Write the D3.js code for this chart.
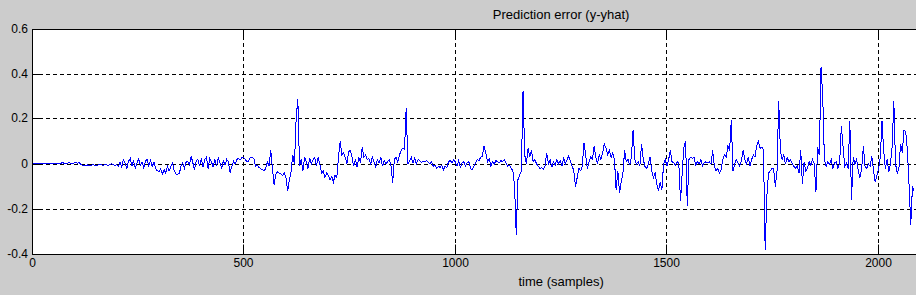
<!DOCTYPE html>
<html><head><meta charset="utf-8">
<script src="https://cdn.jsdelivr.net/npm/d3@7/dist/d3.min.js"></script>
<style>
html,body{margin:0;padding:0;background:#cccccc;overflow:hidden;}
svg{display:block;}
</style>
</head><body>
<svg id="chart" width="916" height="295"></svg>
<script>
// ---------------- data ----------------
const chartTitle = "Prediction error (y-yhat)";
const xAxisLabel = "time (samples)";
const xTickValues = [0, 500, 1000, 1500, 2000];
const xTickLabels = ["0", "500", "1000", "1500", "2000"];
const yTickValues = [-0.4, -0.2, 0, 0.2, 0.4, 0.6];
const yTickLabels = ["-0.4", "-0.2", "0", "0.2", "0.4", "0.6"];
const xDomain = [0, 2500];
const yDomain = [-0.4, 0.6];
const sampleStep = 4; // samples between successive stored values
const errorValues = [
  0.002,0.003,0.002,0.003,0.002,0.001,0.002,0.003,0.004,0.003,0.002,0.001,0.002,0.004,0.003,0.002,0.003,0.004,0.005,0.004,0.003,0.004,0.005,0.004,0.003,
  0.005,0.006,0.004,0.005,-0.003,-0.006,-0.005,-0.006,-0.004,-0.006,-0.005,-0.003,-0.005,-0.006,-0.004,-0.002,-0.004,-0.005,-0.003,-0.004,-0.006,-0.003,0.001,-0.004,-0.006,
  -0.004,-0.01,0.008,-0.015,0.02,0.005,-0.02,0.012,0.025,-0.01,0.015,-0.02,0.005,0.022,-0.005,0.01,-0.018,0.012,0.02,-0.008,0.015,-0.012,0.008,-0.02,-0.03,
  -0.035,-0.02,-0.045,-0.025,-0.04,-0.01,-0.03,-0.012,0.005,-0.03,-0.045,-0.045,-0.043,-0.01,0.005,-0.02,0.008,0.012,-0.005,0.035,0.005,-0.025,0.015,0.02,-0.01,
  0.025,-0.015,0.02,0.03,-0.02,0.025,0.01,-0.015,0.02,-0.01,0.028,0.005,-0.02,0.015,-0.005,0.02,0.01,-0.04,-0.01,0.012,0.0,0.02,0.025,0.018,0.03,
  0.03,0.02,0.008,0.015,0.03,0.028,0.025,-0.01,-0.005,-0.015,-0.02,-0.025,-0.03,-0.02,0.01,-0.01,0.06,-0.02,-0.095,-0.045,-0.035,-0.04,-0.045,-0.05,-0.04,
  -0.06,-0.12,-0.07,-0.035,0.04,0.0,0.2,0.29,-0.01,0.02,-0.03,0.03,0.01,-0.02,0.025,0.0,0.02,0.03,-0.01,0.03,0.0,-0.04,-0.03,-0.06,-0.04,
  -0.05,-0.07,-0.055,-0.08,-0.05,-0.06,0.03,0.1,0.04,0.05,0.03,0.0,0.055,0.06,0.03,-0.01,0.02,-0.015,0.03,0.005,0.075,0.03,0.04,0.02,0.025,
  0.0,0.03,0.01,-0.015,0.02,0.005,0.03,-0.01,0.015,0.0,0.01,0.02,-0.005,-0.085,0.02,0.03,0.01,0.04,0.06,0.07,0.065,0.25,0.0,0.015,0.03,
  0.005,0.025,0.0,0.02,0.015,0.008,0.012,0.01,0.015,0.008,0.0,0.01,-0.01,-0.005,-0.02,-0.01,-0.015,-0.005,-0.025,-0.01,-0.015,0.01,0.015,0.005,0.02,
  0.01,-0.01,0.015,-0.015,0.005,0.01,-0.01,0.005,0.01,-0.02,-0.025,-0.01,0.005,0.02,0.015,0.03,0.035,0.08,0.05,0.01,0.025,-0.01,0.01,0.0,0.015,
  0.01,0.005,0.015,0.01,0.02,0.005,-0.01,-0.005,-0.02,-0.03,-0.1,-0.315,-0.07,-0.05,-0.03,0.325,0.04,0.0,0.07,0.03,0.06,0.01,0.02,0.0,-0.01,
  -0.02,-0.015,-0.025,-0.01,0.05,0.0,0.02,-0.015,0.01,-0.005,0.02,0.0,0.015,-0.01,0.03,0.0,0.02,0.035,0.01,-0.01,-0.03,-0.1,-0.06,-0.02,-0.03,
  -0.01,0.095,0.04,-0.02,0.01,0.03,0.02,0.08,0.03,0.0,0.04,0.02,0.05,0.09,0.07,0.04,0.06,0.03,0.05,0.02,-0.115,-0.03,-0.13,-0.08,-0.04,
  0.06,0.01,0.02,-0.005,0.03,0.15,0.02,0.0,0.01,-0.01,0.09,0.02,-0.01,-0.02,0.0,0.03,-0.03,-0.06,-0.04,-0.09,-0.12,-0.08,-0.115,0.0,0.02,
  -0.01,0.02,0.06,0.01,0.005,-0.005,0.01,0.005,-0.165,-0.04,0.075,0.1,-0.185,0.02,0.03,0.025,0.03,-0.005,0.01,0.0,0.02,-0.01,0.005,0.01,0.005,
  0.01,0.0,0.06,-0.01,-0.03,-0.02,-0.04,-0.025,0.02,0.04,0.03,0.08,0.06,0.195,-0.03,0.0,0.02,0.005,-0.01,0.015,0.06,0.02,0.0,0.03,-0.01,
  0.02,0.04,0.03,0.08,0.1,0.07,0.075,0.065,-0.38,-0.145,-0.04,-0.03,-0.02,-0.02,-0.1,-0.03,0.28,0.06,0.02,0.04,0.0,0.03,0.01,0.02,0.0,
  -0.01,-0.02,-0.01,-0.04,0.06,-0.09,0.01,-0.03,-0.02,0.01,-0.005,0.02,0.0,-0.125,0.075,0.04,0.43,0.3,0.02,-0.01,0.01,0.0,0.02,-0.02,0.005,
  0.01,-0.02,0.005,0.17,0.08,-0.01,0.005,-0.02,0.19,-0.16,0.03,0.0,0.02,-0.03,-0.06,-0.02,0.08,-0.01,-0.02,0.0,-0.01,0.035,-0.03,-0.08,-0.05,
  -0.02,0.03,0.19,0.06,-0.02,0.02,-0.035,0.0,0.075,0.28,0.0,-0.04,-0.02,0.09,0.05,0.15,0.145,0.06,-0.095,-0.27,-0.1,-0.12
];

// ---------------- drawing ----------------
(function () {
const svg = d3.select("#chart");
const W = 916, H = 295;
const pLeft = 32, pTop = 29, pBottom = 254;
const pxPerSample = 0.4233;
const pRight = pLeft + (xDomain[1] - xDomain[0]) * pxPerSample;

const x = d3.scaleLinear().domain(xDomain).range([pLeft, pRight]);
const y = d3.scaleLinear().domain(yDomain).range([pBottom, pTop]);
const crisp = v => Math.floor(v) + 0.5;

svg.append("rect").attr("x", 0).attr("y", 0).attr("width", W).attr("height", H).attr("fill", "#cccccc");
svg.append("rect").attr("x", pLeft).attr("y", pTop).attr("width", pRight - pLeft).attr("height", pBottom - pTop).attr("fill", "#ffffff");

// grid
const grid = svg.append("g").attr("stroke", "#000").attr("stroke-width", 1).attr("stroke-dasharray", "4,3").attr("fill", "none");
xTickValues.filter(v => v > xDomain[0] && v < xDomain[1]).forEach(v => {
  grid.append("line").attr("x1", crisp(x(v))).attr("x2", crisp(x(v))).attr("y1", pTop).attr("y2", pBottom);
});
yTickValues.filter(v => v > yDomain[0] && v < yDomain[1]).forEach(v => {
  grid.append("line").attr("y1", crisp(y(v))).attr("y2", crisp(y(v))).attr("x1", pLeft).attr("x2", pRight);
});

// data line
svg.append("clipPath").attr("id", "plotclip").append("rect")
  .attr("x", pLeft).attr("y", pTop).attr("width", pRight - pLeft).attr("height", pBottom - pTop);
const line = d3.line().x((d, i) => x(i * sampleStep)).y(d => y(d));
svg.append("path").datum(errorValues)
  .attr("clip-path", "url(#plotclip)")
  .attr("fill", "none").attr("stroke", "#0000ff").attr("stroke-width", 1)
  .attr("stroke-linejoin", "miter").attr("shape-rendering", "crispEdges").attr("d", line);

// axes
const tickFont = "Liberation Sans, Arial, sans-serif";
const xAxisG = svg.append("g").attr("transform", `translate(0,${pBottom})`)
  .call(d3.axisBottom(x).tickValues(xTickValues).tickFormat((d, i) => xTickLabels[i]).tickSizeInner(-10).tickSizeOuter(0).tickPadding(4));
const xTopG = svg.append("g").attr("transform", `translate(0,${pTop})`)
  .call(d3.axisTop(x).tickValues(xTickValues).tickFormat("").tickSizeInner(-10).tickSizeOuter(0));
const yAxisG = svg.append("g").attr("transform", `translate(${pLeft},0)`)
  .call(d3.axisLeft(y).tickValues(yTickValues).tickFormat((d, i) => yTickLabels[i]).tickSizeInner(-10).tickSizeOuter(0).tickPadding(4));

[xAxisG, xTopG].forEach(g => {
  g.selectAll(".tick").attr("transform", d => `translate(${crisp(x(d))},0)`);
});
yAxisG.selectAll(".tick").attr("transform", d => `translate(0,${crisp(y(d))})`);
[xAxisG, xTopG, yAxisG].forEach(g => {
  g.select(".domain").remove();
  g.selectAll(".tick line").attr("stroke", "#000");
  g.selectAll("text").attr("fill", "#000").attr("font-family", tickFont).attr("font-size", "12px");
});
yAxisG.selectAll(".tick line").attr("transform", "translate(0.5,0)");
xAxisG.selectAll(".tick line").attr("transform", "translate(0,0.5)");

// box
svg.append("rect").attr("x", pLeft + 0.5).attr("y", pTop + 0.5)
  .attr("width", pRight - pLeft).attr("height", pBottom - pTop)
  .attr("fill", "none").attr("stroke", "#000").attr("stroke-width", 1);

// titles
const cx = (pLeft + pRight) / 2;
svg.append("text").attr("x", cx).attr("y", 19).attr("text-anchor", "middle")
  .attr("font-family", tickFont).attr("font-size", "13px").attr("fill", "#000").text(chartTitle);
svg.append("text").attr("x", cx).attr("y", 286).attr("text-anchor", "middle")
  .attr("font-family", tickFont).attr("font-size", "13px").attr("fill", "#000").text(xAxisLabel);
})();
</script>
</body></html>
